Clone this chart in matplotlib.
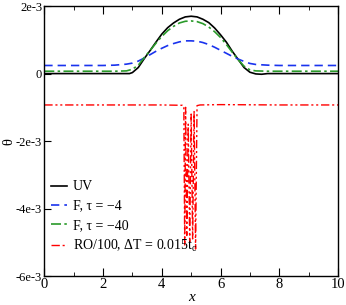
import matplotlib
matplotlib.use("Agg")
import matplotlib.pyplot as plt
from matplotlib.ticker import MultipleLocator

plt.rcParams['font.family'] = ['Liberation Serif', 'DejaVu Serif']
plt.rcParams['mathtext.fontset'] = 'custom'
plt.rcParams['mathtext.rm'] = 'Liberation Serif'
plt.rcParams['mathtext.it'] = 'Liberation Serif:italic'
plt.rcParams['axes.unicode_minus'] = False

# values, theta in units of 1e-3
x_uv = [0, 1, 2, 2.8, 2.9, 3.0, 3.2, 3.4, 3.6, 3.8, 4.0, 4.2, 4.4, 4.6, 4.8, 5.0,
        5.2, 5.4, 5.6, 5.8, 6.0, 6.2, 6.4, 6.6, 6.8, 7.0, 7.2, 7.4, 7.6, 8, 9, 10]
uv = [0, 0, 0, 0, 0.0, 0.03, 0.18, 0.44, 0.68, 0.93, 1.17, 1.36, 1.50, 1.61, 1.68, 1.70,
      1.68, 1.61, 1.51, 1.35, 1.15, 0.93, 0.66, 0.42, 0.18, 0.04, -0.01, -0.02, 0, 0, 0, 0]

x_f = [0, 1, 2, 2.4, 2.8, 3.0, 3.2, 3.4, 3.6, 3.8, 4.0, 4.2, 4.4, 4.6, 4.8, 5.0,
       5.2, 5.4, 5.6, 5.8, 6.0, 6.2, 6.4, 6.6, 6.8, 7.0, 7.2, 7.6, 8, 9, 10]
f_tau4 = [0.24, 0.24, 0.24, 0.25, 0.28, 0.31, 0.37, 0.46, 0.56, 0.66, 0.75, 0.83, 0.89, 0.94, 0.97, 0.97,
          0.96, 0.92, 0.86, 0.78, 0.69, 0.60, 0.51, 0.43, 0.36, 0.30, 0.27, 0.25, 0.24, 0.24, 0.24]
f_tau40 = [0.07, 0.07, 0.07, 0.07, 0.08, 0.13, 0.25, 0.47, 0.68, 0.90, 1.10, 1.27, 1.40, 1.50, 1.55, 1.56,
           1.54, 1.48, 1.38, 1.24, 1.07, 0.86, 0.63, 0.41, 0.22, 0.11, 0.08, 0.07, 0.07, 0.07, 0.07]

x_ro = [0, 2, 4, 4.7, 4.75, 4.78, 4.81, 4.85, 4.9, 4.95, 5.0, 5.05, 5.1, 5.15, 5.2, 5.3, 6, 8, 10]
ro = [-0.93, -0.93, -0.93, -0.94, -0.96, -5.1, -1.0, -4.8, -1.5, -5.0, -1.2, -4.9, -1.1, -5.2,
      -0.95, -0.93, -0.92, -0.93, -0.93]

scale = 1e-3

fig = plt.figure(figsize=(3.46, 3.05), dpi=100)
ax = fig.add_axes([0.128, 0.095, 0.849, 0.885])

ax.plot(x_uv, [v * scale for v in uv], color='black', lw=1.2, label='UV')
ax.plot(x_f, [v * scale for v in f_tau4], color='#1a33ee', lw=1.2, ls=(0, (5, 3)),
        label='F, τ = −4')
ax.plot(x_f, [v * scale for v in f_tau40], color='#2a9a2a', lw=1.2, ls=(0, (6, 2, 1.5, 2)),
        label='F, τ = −40')
ax.plot(x_ro, [v * scale for v in ro], color='red', lw=1.0, ls=(0, (6, 2, 1.5, 2, 1.5, 2)),
        label='RO/100, ΔT = 0.015t$_\\mathregular{c}$')

ax.set_xlim(0, 10)
ax.set_ylim(-6e-3, 2e-3)
ax.xaxis.set_major_locator(MultipleLocator(2))
ax.xaxis.set_minor_locator(MultipleLocator(1))
ax.set_yticks([2e-3, 0, -2e-3, -4e-3, -6e-3])
ax.set_yticklabels(['2e-3', '0', '-2e-3', '-4e-3', '-6e-3'])
ax.tick_params(axis='x', which='major', direction='in', length=6, top=True, labelsize=10.5, pad=1.5)
ax.tick_params(axis='x', which='minor', direction='in', length=3, top=True)
ax.tick_params(axis='y', which='major', direction='in', length=5, right=False, labelsize=9, pad=1.5)
for s in ax.spines.values():
    s.set_linewidth(1.0)

ax.set_xlabel('x', style='italic', fontsize=11)
ax.xaxis.set_label_coords(0.5, -0.055)
# y label placed by hand, close to the tick labels as in the original
fig.text(0.026, 0.537, 'θ', fontsize=10.5, rotation=90, ha='center', va='center')

ax.legend(loc='lower left', bbox_to_anchor=(0.005, 0.06), frameon=False, fontsize=10,
          handlelength=1.1, handletextpad=0.45, labelspacing=0.45, borderaxespad=0.0)

fig.savefig('out.png', dpi=100)
